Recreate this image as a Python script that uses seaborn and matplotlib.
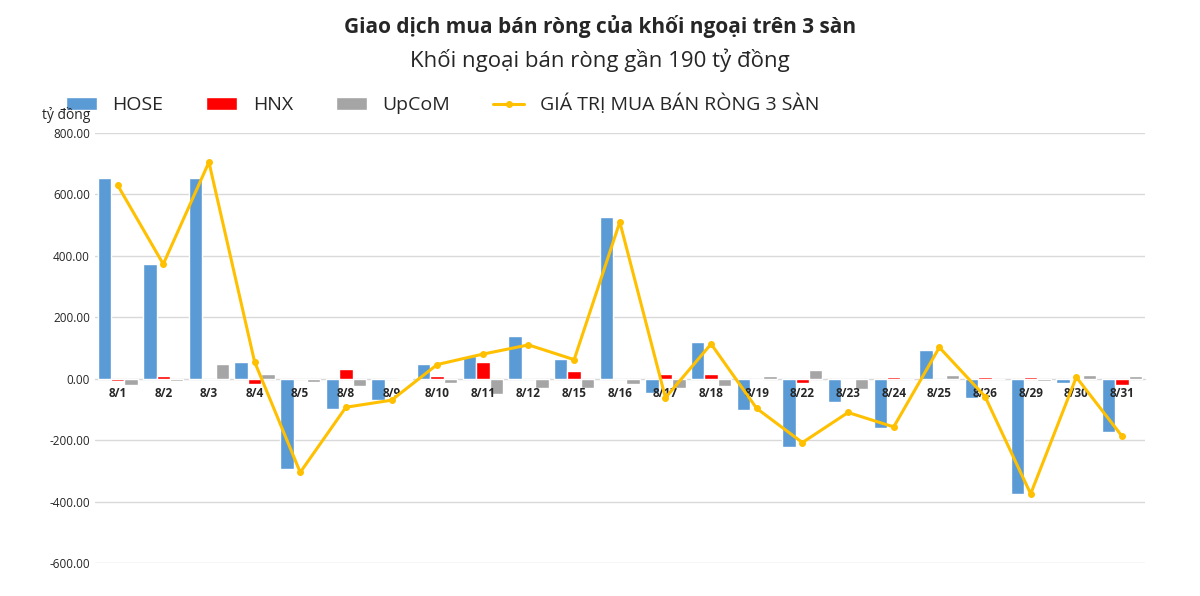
import matplotlib
matplotlib.use('Agg')
import matplotlib.pyplot as plt
import seaborn as sns
import pandas as pd
from matplotlib.ticker import FuncFormatter

dates = ['8/1', '8/2', '8/3', '8/4', '8/5', '8/8', '8/9', '8/10', '8/11', '8/12', '8/15', '8/16',
         '8/17', '8/18', '8/19', '8/22', '8/23', '8/24', '8/25', '8/26', '8/29', '8/30', '8/31']
hose = [655, 372, 655, 55, -293, -100, -70, 48, 73, 140, 63, 528,
        -47, 118, -102, -222, -75, -160, 92, -63, -375, -15, -175]
hnx = [-9, 9, -2, -18, -2, 33, -2, 10, 55, -2, 24, -2,
       15, 15, -5, -15, -5, 4, -3, 4, 6, 2, -22]
upcom = [-22, -8, 48, 15, -10, -25, 3, -14, -50, -30, -30, -18,
         -30, -23, 9, 27, -32, -1, 12, -1, -7, 11, 8]
total = [630, 373, 705, 55, -305, -93, -70, 46, 80, 110, 62, 510,
         -62, 113, -97, -208, -110, -157, 102, -58, -375, 5, -187]

sns.set_style('white')
plt.rcParams['font.family'] = ['Open Sans', 'DejaVu Sans']

df = pd.DataFrame({'date': dates * 3,
                   'value': hose + hnx + upcom,
                   'series': ['HOSE'] * len(dates) + ['HNX'] * len(dates) + ['UpCoM'] * len(dates)})

fig = plt.figure(figsize=(12, 5.96), dpi=100)
ax = fig.add_axes([0.079, 0.0554, 0.875, 0.7215])

yticks = list(range(-600, 801, 200))
for v in yticks:
    ax.axhline(v, color='#d9d9d9', lw=1, zorder=0)

sns.barplot(data=df, x='date', y='value', hue='series', order=dates,
            palette={'HOSE': '#5b9bd5', 'HNX': '#ff0000', 'UpCoM': '#a5a5a5'},
            saturation=1, width=0.88, gap=0, ax=ax, zorder=2)
ax.plot(range(len(dates)), total, color='#ffc000', lw=2.2, marker='o', ms=4,
        label='GIÁ TRỊ MUA BÁN RÒNG 3 SÀN', zorder=4)

ax.set_ylim(-600, 800)
ax.set_yticks(yticks)
ax.yaxis.set_major_formatter(FuncFormatter(lambda v, p: '%.2f' % v))
ax.set_axisbelow(False)
ax.set_xlim(-0.5, len(dates) - 0.5)
for s in ['top', 'right', 'left']:
    ax.spines[s].set_visible(False)
ax.spines['bottom'].set_position(('data', 0))
ax.spines['bottom'].set_color('#d9d9d9')
ax.spines['bottom'].set_zorder(0)
ax.tick_params(axis='both', length=0, labelsize=8.5)
ax.tick_params(axis='x', pad=6)
for t in ax.get_xticklabels():
    t.set_fontweight('bold')
ax.set_xlabel('')
ax.set_ylabel('')

fig.text(0.035, 0.8, 'tỷ đồng', fontsize=10)
fig.text(0.5, 0.945, 'Giao dịch mua bán ròng của khối ngoại trên 3 sàn', ha='center',
         fontsize=15, fontweight='bold')
fig.text(0.5, 0.888, 'Khối ngoại bán ròng gần 190 tỷ đồng', ha='center', fontsize=16)

h, l = ax.get_legend_handles_labels()
ax.legend(h, l, loc='lower left', bbox_to_anchor=(-0.035, 1.025), ncol=4, frameon=False,
          fontsize=14, handlelength=1.6, columnspacing=2.2, borderaxespad=0)

fig.savefig('out.png', dpi=100)
